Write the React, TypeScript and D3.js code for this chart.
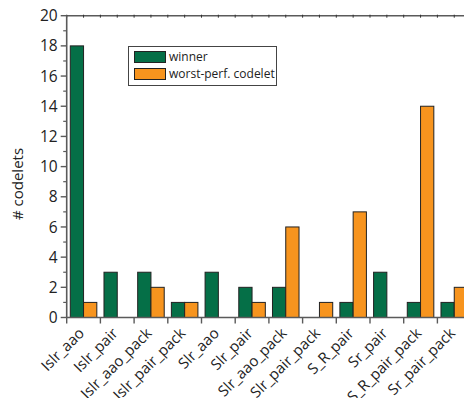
import React from "react";
import * as d3 from "d3";

const categories = [
  "Islr_aao",
  "Islr_pair",
  "Islr_aao_pack",
  "Islr_pair_pack",
  "Slr_aao",
  "Slr_pair",
  "Slr_aao_pack",
  "Slr_pair_pack",
  "S_R_pair",
  "Sr_pair",
  "S_R_pair_pack",
  "Sr_pair_pack",
];
const winner = [18, 3, 3, 1, 3, 2, 2, 0, 1, 3, 1, 1];
const worstPerf = [1, 0, 2, 1, 0, 1, 6, 1, 7, 0, 14, 2];
const seriesNames = ["winner", "worst-perf. codelet"];
const yTicks = [0, 2, 4, 6, 8, 10, 12, 14, 16, 18, 20];

const GREEN = "#056f47";
const ORANGE = "#f7941e";
const AXIS = "#5a5a5a";
const FONT = "'Open Sans', 'DejaVu Sans', sans-serif";

export default function App() {
  const left = 66.7;
  const top = 15.7;
  const bottom = 317.5;
  const step = 33.7;
  const right = left + step * categories.length;

  const x = d3.scaleBand<string>().domain(categories).range([left, right]).padding(0);
  const x1 = d3
    .scaleBand<string>()
    .domain(seriesNames)
    .range([0, x.bandwidth()])
    .paddingInner(0)
    .paddingOuter(0.27);
  const y = d3.scaleLinear().domain([0, 20]).range([bottom, top]);

  const minorY = d3.range(1, 20, 2);
  const topTicks = d3.range(0, categories.length * 2 + 1).map((i) => left + (i * step) / 2);

  return (
    <div style={{ position: "absolute", left: 0, top: 0, width: 464, height: 398, overflow: "hidden", background: "#fff" }}>
      <svg width={490} height={398} style={{ display: "block" }} fontFamily={FONT}>
        {/* bars */}
        {categories.map((c, i) => (
          <g key={c}>
            {[winner[i], worstPerf[i]].map((v, j) =>
              v > 0 ? (
                <rect
                  key={j}
                  x={(x(c) ?? 0) + (x1(seriesNames[j]) ?? 0)}
                  y={y(v)}
                  width={x1.bandwidth()}
                  height={y(0) - y(v)}
                  fill={j === 0 ? GREEN : ORANGE}
                  stroke="#222"
                  strokeWidth={1}
                />
              ) : null
            )}
          </g>
        ))}

        {/* top frame line */}
        <line x1={left} x2={right} y1={top} y2={top} stroke={AXIS} strokeWidth={1.6} />
        {topTicks.map((t, i) => (
          <line key={i} x1={t} x2={t} y1={top - 1} y2={top + 2} stroke="#333" strokeWidth={1} />
        ))}

        {/* left axis */}
        <line x1={left} x2={left} y1={top} y2={bottom} stroke={AXIS} strokeWidth={1.6} />
        {yTicks.map((t) => (
          <g key={t}>
            <line x1={left - 6} x2={left} y1={y(t)} y2={y(t)} stroke={AXIS} strokeWidth={1.4} />
            <text x={left - 9} y={y(t)} dy="0.36em" textAnchor="end" fontSize={15.5} fill="#222">
              {t}
            </text>
          </g>
        ))}
        {minorY.map((t) => (
          <line key={t} x1={left - 3.5} x2={left} y1={y(t)} y2={y(t)} stroke={AXIS} strokeWidth={1.2} />
        ))}

        {/* bottom axis */}
        <line x1={left} x2={right} y1={bottom} y2={bottom} stroke={AXIS} strokeWidth={1.6} />
        {d3.range(0, categories.length + 1).map((i) => (
          <line
            key={i}
            x1={left + i * step}
            x2={left + i * step}
            y1={bottom}
            y2={bottom + 6}
            stroke={AXIS}
            strokeWidth={1.4}
          />
        ))}
        {categories.map((c) => {
          const cx = (x(c) ?? 0) + x.bandwidth() / 2 - 2;
          const cy = bottom + 13;
          return (
            <text
              key={c}
              x={cx}
              y={cy}
              textAnchor="end"
              dy="0.35em"
              fontSize={15}
              fill="#222"
              transform={`rotate(-45 ${cx} ${cy})`}
            >
              {c}
            </text>
          );
        })}

        {/* y axis title */}
        <text
          x={0}
          y={0}
          transform={`translate(23 184) rotate(-90)`}
          textAnchor="middle"
          fontSize={15}
          fill="#222"
        >
          # codelets
        </text>

        {/* legend */}
        <g>
          <rect x={128.5} y={46.5} width={148} height={39} fill="#fff" stroke="#444" strokeWidth={1} />
          {seriesNames.map((s, i) => (
            <g key={s} transform={`translate(134 ${51 + i * 17})`}>
              <rect x={0.5} y={0.5} width={31} height={11} fill={i === 0 ? GREEN : ORANGE} stroke="#222" strokeWidth={1} />
              <text x={35} y={6} dy="0.35em" fontSize={12} fill="#222">
                {s}
              </text>
            </g>
          ))}
        </g>
      </svg>
    </div>
  );
}
